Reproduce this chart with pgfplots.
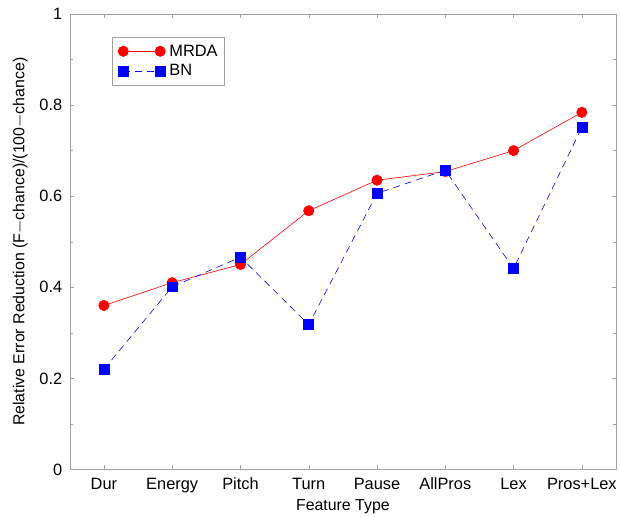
\documentclass[border=0pt]{standalone}
\usepackage{pgfplots}
\pgfplotsset{compat=1.18}
\usepackage{fontspec}
\setmainfont{Liberation Sans}
\definecolor{spinegray}{RGB}{160,160,160}

\begin{document}
\begin{tikzpicture}
\begin{axis}[
  scale only axis,
  width=548bp,
  height=457bp,
  xmin=0.5, xmax=8.5,
  ymin=0, ymax=1,
  xtick={1,...,8},
  xticklabels={Dur,Energy,Pitch,Turn,Pause,AllPros,Lex,Pros+Lex},
  ytick={0,0.2,...,1},
  minor ytick={0.1,0.3,...,0.9},
  yticklabel style={/pgf/number format/fixed},
  /pgf/number format/assume math mode=true,
  tick align=inside,
  major tick length=4bp,
  minor tick length=3bp,
  axis line style={spinegray},
  every tick/.style={spinegray},
  minor tick style={spinegray},
  tick label style={font=\fontsize{16.5}{19}\selectfont},
  label style={font=\fontsize{16}{19}\selectfont},
  xticklabel style={yshift=-5bp},
  yticklabel style={xshift=-4bp},
  xlabel={Feature Type},
  ylabel={Relative Error Reduction (F$-$chance)/(100$-$chance)},
  xlabel style={yshift=0bp},
  ylabel style={yshift=5bp},
  legend style={at={(0.077,0.95)},anchor=north west,draw=spinegray,
    font=\fontsize{16.5}{19}\selectfont,row sep=3bp,inner xsep=5bp,inner ysep=6bp},
  legend cell align=left,
  legend image code/.code={\draw[#1,line width=0.6bp] plot coordinates {(0bp,0bp) (37bp,0bp)};
    \path (-6bp,0bp) (44bp,0bp);},
]
\addplot[color=red,line width=0.6bp,mark=*,mark size=5.2bp,mark options={solid,fill=red,draw=red}]
  coordinates {(1,0.360) (2,0.410) (3,0.450) (4,0.568) (5,0.635) (6,0.654) (7,0.700) (8,0.784)};
\addlegendentry{MRDA}
\addplot[color=blue,line width=0.6bp,dash pattern=on 7bp off 5bp,mark=square*,mark size=5bp,mark options={solid,fill=blue,draw=blue}]
  coordinates {(1,0.220) (2,0.401) (3,0.466) (4,0.318) (5,0.606) (6,0.657) (7,0.441) (8,0.751)};
\addlegendentry{BN}
\end{axis}
\path ([xshift=-70bp,yshift=-45bp]current axis.south west) rectangle ([xshift=2bp,yshift=14bp]current axis.north east);
\end{tikzpicture}
\end{document}
